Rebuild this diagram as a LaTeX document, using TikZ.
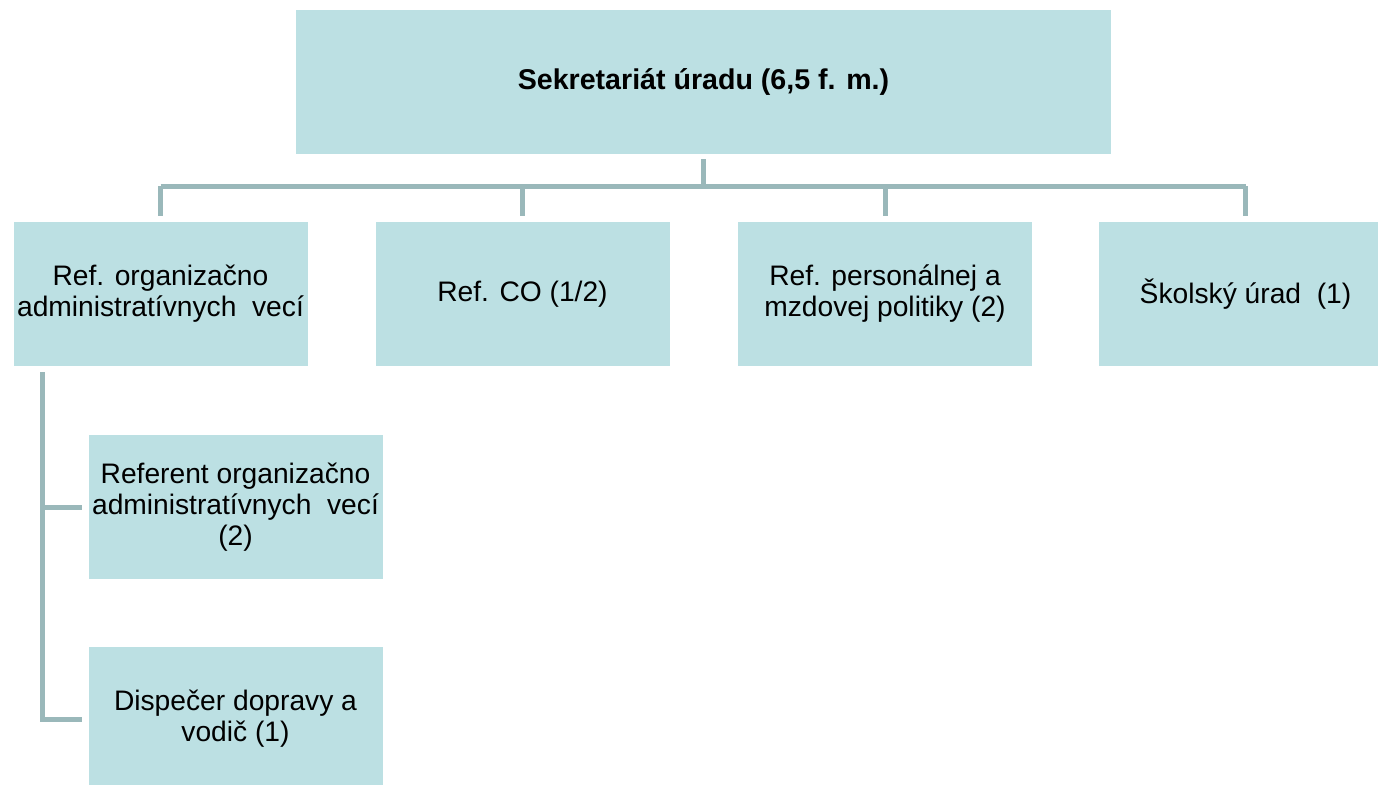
\documentclass[tikz,border=0pt]{standalone}
\usepackage{fontspec}
\setmainfont{Liberation Sans}
\definecolor{boxfill}{HTML}{BCE0E3}
\definecolor{linec}{HTML}{9AB8BA}
\begin{document}
\begin{tikzpicture}[x=1pt,y=-1pt,
  orgbox/.style={rectangle,fill=boxfill,draw=none,inner sep=0pt,
    minimum width=294pt,minimum height=144pt,align=center,
    font=\fontsize{28.2}{31}\selectfont},
  conn/.style={draw=linec,line width=5pt}]
\clip (0,0) rectangle (1378,784);
\node[orgbox,minimum width=815pt,font=\fontsize{28.6}{31}\selectfont\bfseries] (top) at (703.5,82) {Sekretariát úradu (6,5 f. m.)};
\node[orgbox] (b1) at (160.5,294) {Ref. organizačno\\administratívnych\ \ vecí};
\node[orgbox] (b2) at (522.5,294) {Ref. CO (1/2)};
\node[orgbox] (b3) at (885,294) {Ref. personálnej a\\mzdovej\ politiky\ (2)};
\node[orgbox] (b4) at (1245.5,294) {Školský úrad\ \ (1)};
\node[orgbox] (sA) at (235.5,507) {Referent organizačno\\administratívnych\ \ vecí\\(2)};
\node[orgbox] (sB) at (235.5,719) {Dispečer dopravy a\\vodič (1)};
\coordinate (bar) at (0,186);
\coordinate (sp) at (42,0);
\path ([yshift=-5pt]top.south) coordinate (t0);
\path ([yshift=-6pt]b1.south) coordinate (t1);
\path ([xshift=-6pt]sA.west) coordinate (ea);
\path ([xshift=-6pt]sB.west) coordinate (eb);
\draw[conn] (t0) -- (t0 |- bar);
\draw[conn] (b1.north |- bar) -- (b4.north |- bar);
\foreach \b in {b1,b2,b3,b4}{
  \path ([yshift=6pt]\b.north) coordinate (d\b);
  \draw[conn] (\b.north |- bar) -- (d\b);
}
\draw[conn] (t1 -| sp) -- (eb -| sp) -- (eb);
\draw[conn] (ea -| sp) -- (ea);
\end{tikzpicture}
\end{document}
